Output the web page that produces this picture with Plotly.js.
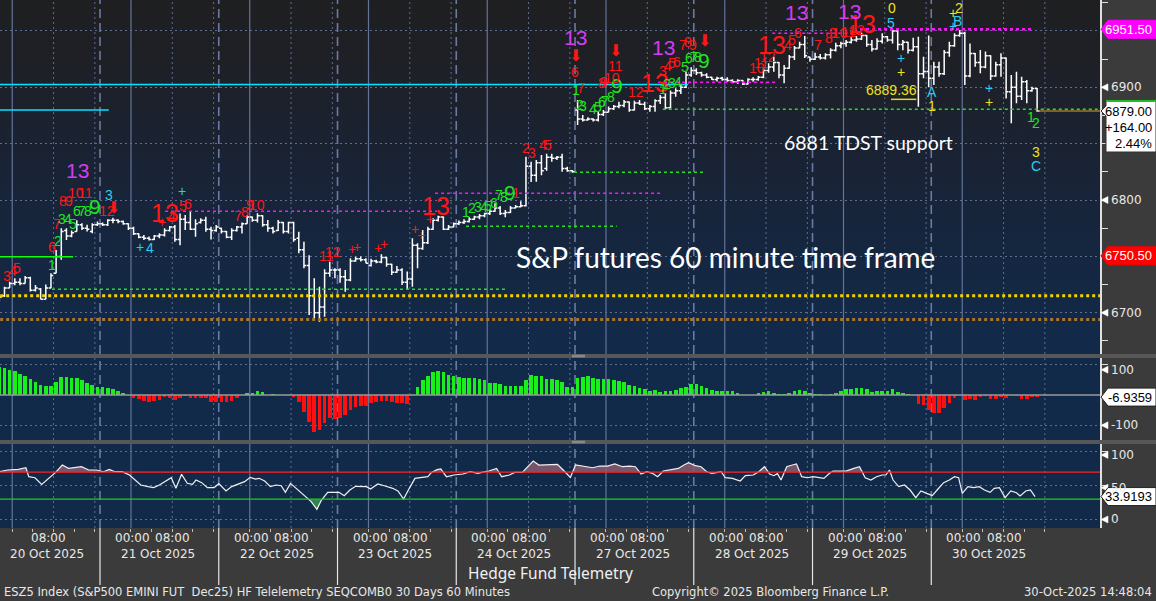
<!DOCTYPE html>
<html>
<head>
<meta charset="utf-8">
<script src="https://cdn.plot.ly/plotly-3.0.1.min.js"></script>
<style>
html,body{margin:0;padding:0;background:#3b3b3b;overflow:hidden;}
#wrap{position:relative;width:1156px;height:601px;background:#3b3b3b;}
.bg{position:absolute;left:0;width:1100px;}
#bg1{top:0;height:354px;background:linear-gradient(to bottom,#1f1f21 0%,#1e2026 18%,#1a2232 42%,#15263f 70%,#122a4b 100%);}
#bg2{top:358px;height:82px;background:#122a4a;}
#bg3{top:444px;height:84px;background:#122a4a;}
#chart{position:absolute;left:0;top:0;width:1156px;height:601px;}
</style>
</head>
<body>
<div id="wrap"><div class="bg" id="bg1"></div><div class="bg" id="bg2"></div><div class="bg" id="bg3"></div><div id="chart"></div></div>
<script>
// ---------------- DATA ----------------
const FIRST_BAR = -20;          // bar index of first visible 60-min bar (20 Oct 22:00)
const BARS_PER_SESSION = 23;    // 18:00 .. 16:00
const sessionNo = [-1, 0, 1, 2, 3, 4, 5, 6, 7];
const sessionDates = ['20 Oct 2025','21 Oct 2025','22 Oct 2025','23 Oct 2025','24 Oct 2025','27 Oct 2025','28 Oct 2025','29 Oct 2025','30 Oct 2025'];

const barOpen = [
 6711,6715,6722,6726,6727,6726,6731,6720,6721,6712,6722,6735,6750,6773,6768,6772,6778,6775,6772,6778,
 6779,6778,6782,6782,6781,6779,6775,6770,6767,6766,6765,6768,6769,6773,6776,6765,6783,6780,6774,6780,6782,6774,6773,
 6775,6772,6767,6773,6776,6779,6785,6782,6786,6778,6775,6773,6780,6772,6780,6766,6756,6742,6715,6700,6705,6735,6738,
 6738,6732,6729,6746,6748,6747,6742,6746,6745,6749,6743,6736,6738,6727,6730,6760,6757,6762,6774,6782,6785,6774,6776,
 6779,6780,6781,6783,6785,6786,6788,6790,6793,6788,6789,6793,6794,6795,6830,6822,6833,6828,6838,6837,6838,6828,6826,
 6880,6872,6871,6872,6871,6876,6878,6881,6883,6884,6887,6880,6886,6885,6881,6883,6888,6891,6882,6895,6897,6900,6911,
 6915,6913,6911,6909,6907,6908,6907,6906,6905,6906,6903,6907,6907,6909,6915,6918,6922,6911,6917,6927,6935,6938,6927,
 6925,6927,6926,6929,6933,6937,6939,6940,6942,6943,6946,6938,6934,6941,6945,6942,6950,6938,6940,6933,6936,6912,6914,
 6908,6918,6912,6931,6937,6946,6948,6910,6930,6922,6918,6928,6910,6920,6926,6896,6900,6892,6905,6897,6899];
const barHigh = [
 6716,6723,6727.5,6730.5,6730.5,6732.5,6732,6724.7,6722,6725,6735,6755.7,6775,6775,6773,6782,6779.4,6778,6779.4,6780.9,
 6780,6783,6784.4,6783,6781.8,6779.4,6776.4,6770.5,6769,6767.6,6769,6770.5,6775,6777,6777.8,6788,6786.7,6789.7,6782.9,6783.8,6785.2,6776.4,6777.8,
 6775.5,6772.5,6774.9,6777,6780,6786.7,6785.5,6788.2,6786.5,6782.3,6776.4,6782.3,6780.5,6780.8,6780.8,6771.9,6763,6751,6730.5,6723,6738.5,6745.3,6739.4,
 6739.4,6737.9,6748.3,6749.7,6749.8,6748.3,6748,6747,6752,6749.5,6743.5,6741.5,6739.4,6736.5,6766,6761.6,6773.5,6776.4,6783.8,6786,6785.3,6777.9,6780,
 6781.8,6783,6784.7,6786,6787.7,6788.8,6791.8,6797.1,6794.8,6791.2,6794.8,6795.6,6799,6838.5,6834,6835.5,6840,6841,6841,6839,6841,6829.6,6826.7,
 6888.8,6875.5,6873.4,6872.5,6878.4,6879.9,6882.9,6884.3,6887.3,6888.8,6887.5,6888.2,6888.8,6887.3,6884.3,6889.4,6893.2,6894.7,6897.1,6899.1,6902.1,6913.9,6917.8,
 6916.9,6913.9,6912.4,6909.5,6909.5,6909.5,6908.9,6907.1,6907.1,6906.5,6908,6908.9,6910,6916.9,6921.3,6927.2,6922.5,6919.8,6928.7,6936.7,6940.5,6945.6,6927.2,
 6930.8,6929.6,6930.2,6934.6,6939.6,6940.5,6942,6944.4,6945.6,6948.5,6946.5,6942,6943.5,6947.9,6945.6,6951.5,6951.2,6942,6940.5,6944,6945,6927.2,6946,
 6922.8,6922.8,6933.1,6940.5,6947.9,6950.9,6949.4,6939,6930.5,6933.1,6931.7,6928.5,6922.8,6930.2,6926.5,6911,6913.9,6909.5,6906.5,6900.6,6899.5];
const barLow = [
 6710,6714,6722,6724.5,6724.5,6726,6718.8,6718.8,6712,6712,6721.7,6735,6747,6764.6,6767,6772,6773.5,6772,6770.5,6777,
 6777,6777,6779.4,6779.4,6778,6773.5,6769,6766,6764.6,6764,6764.6,6766,6767.6,6772,6763,6760,6773.4,6773.4,6767.5,6779.3,6771.9,6765,6771.9,
 6770.4,6766,6764.5,6772,6770.4,6779,6780.8,6780,6776.4,6771.9,6770.4,6772.5,6770.4,6770.4,6763,6752.7,6739.4,6698,6693.6,6692,6696.5,6732,6730.5,
 6726.7,6718.7,6728,6745.3,6745.4,6743.9,6741,6744,6744,6740.9,6733.5,6735.5,6724.7,6720.2,6723,6739.4,6756,6761,6773.5,6780.9,6773.5,6773.5,6775.8,
 6777.9,6778.8,6780,6782.3,6782.9,6784.7,6786.8,6789.7,6786.8,6784.7,6788.5,6792.7,6793.6,6794.2,6816,6816.3,6822,6826,6834,6835.5,6825.2,6825.2,6824.3,
 6866.6,6869.6,6870.5,6869.6,6869.6,6874.6,6878,6879.9,6881.4,6882.3,6878.4,6879.5,6884.3,6879.9,6878.4,6878.4,6885.2,6880.5,6881.5,6891.7,6894.1,6899.5,6909.5,
 6911,6909.5,6908,6906.5,6905.1,6905.9,6905,6903.6,6903,6902.1,6902.5,6905,6905.9,6908,6913,6913.9,6908,6903.6,6916.5,6924.3,6934.6,6926,6922.8,
 6924.3,6924.8,6924.8,6925.7,6931.7,6934.6,6936.1,6939,6940.5,6942,6936.1,6931.7,6933.5,6939,6940.5,6939,6933,6933,6930,6931.7,6882.8,6908,6900,
 6902,6909.5,6911,6927.2,6936.1,6945,6902.1,6909,6918.3,6912.4,6916.9,6906.5,6909.5,6909.5,6890.2,6868.1,6885.8,6888.8,6885.8,6896.2,6878.4];
const barClose = [
 6714,6722,6726,6727,6726,6731,6720,6722,6712,6722,6733,6750,6772,6768,6771,6778,6775,6774,6778,6779,
 6778,6782,6782,6781,6779,6775,6770,6767,6766,6765,6768,6769,6773,6776,6765,6783,6780,6774,6779,6782,6774,6773,6776,
 6772,6767,6773,6776,6779,6785,6782,6786,6778,6775,6772,6780,6772,6780,6765,6756,6742,6715,6700,6705,6735,6738,6738,
 6732,6729,6746,6748,6747,6744,6746,6745,6749,6743,6736,6738,6727,6730,6760,6757,6762,6774,6782,6785,6774,6776,6779,
 6780,6781,6783,6785,6786,6788,6790,6793,6788,6789,6793,6794,6795,6830,6822,6833,6826,6838,6837,6838,6828,6826,6825,
 6872,6871,6872,6871,6876,6878,6881,6883,6884,6887,6880,6886,6885,6881,6883,6888,6891,6882,6895,6897,6900,6911,6915,
 6913,6911,6909,6907,6908,6907,6906,6905,6906,6903,6907,6907,6909,6915,6918,6922,6911,6917,6927,6935,6938,6928,6925,
 6927,6926,6929,6933,6937,6939,6940,6942,6943,6946,6938,6934,6941,6945,6942,6950,6938,6940,6933,6936,6912,6914,6908,
 6918,6912,6931,6937,6946,6948,6910,6930,6922,6918,6928,6910,6920,6926,6896,6900,6892,6905,6897,6899,6879];

// oscillator histogram, one value per bar (same bars as above)
const oscValue = [
 93.5,88,82.5,79.2,68.2,63.8,51.7,44,33,29.7, 30.8,44,58.3,58.3,57.2,55,49.5,39.6,33,27.5,
 25.3,22,18.7,13.2,5.5,0.5,-11,-13.2,-19.8,-24.2, -19.8,-16.5,-5.5,-11,-16.5,-8.8,-2.2,-8.8,-11,-8.8,
 -11,-22,-22,-22,-22,-19.8,-11,-1,7.7,7.7, 13.2,8.8,1.1,2.2,1.1,-1.1,-3.3,-7.7,-22,-55,
 -88,-121,-115.5,-93.5,-77,-79.2,-74.8,-66,-49.5,-38.5, -35.2,-35.2,-27.5,-22,-19.8,-19.8,-22,-25.3,-27.5,-29.7,
 -2,27.5,49.5,63.8,74.8,79.2,74.8,66,63.8,60.5, 57.2,57.2,55,51.7,49.5,40.7,40.7,35.2,30.8,30.8,
 30.8,30.8,49.5,66,63.8,63.8,52.8,52.8,49.5,41.8, 27.5,
 25.3,55,60.5,62.7,57.2,52.8,52.8,52.8,49.5,46.2, 41.8,33,30.8,24.2,19.8,14.3,16.5,11,13.2,14.3,
 16.5,22,27.5,35.2,36.3,30.8,24.2,16.5,13.2,13.2, 13.2,13.2,7.7,-1,-1,-1,5.5,11,13.2,7.7,
 4.4,2.2,7.7,13.2,16.5,13.2,7.7,3.3,2.2,-1, 2.2,7.7,13.2,18.7,19.8,22,24.2,18.7,11,13.2,
 13.2,13.2,18.7,11,5.5,2.2,-1,-30.8,-33,-49.5, -60.5,-60.5,-41.8,-27.5,-11,-1,-16.5,-14.3,-17.6,-5.5,
 -3.3,-13.2,-13.2,-5.5,-11,-1,-2.2,-13.2,-13.2,-5.5, -6.9359];

// lower line oscillator, read at these bar positions
const rsiBar = [-19.9,-18.4,-16.3,-14.85,-14.3,-13.1,-11.8,-10.5,-9.1,-7.8,-6.6,-5.5,-4.1,-2.7,-1.2,0.2,1.3,2.4,3.8,5.2,7.4,8.8,9.9,11,12,13.3,14.2,15.3,16.4,17.4,18.1,19.2,20.3,21.6,22.5,23.9,25,26,27.5,28.6,29.6,30.3,31.4,32.5,33.6,34.6,35.4,36.4,37.5,38.9,40.4,41.5,42.4,43.6,44.7,45.8,46.8,47.9,49,50.1,51.1,51.9,53.3,54.7,56.2,57.2,58.3,59.4,60.5,61.9,63,63.7,64.8,65.5,66.6,68,69.8,71.2,72.7,73.4,74.8,76.3,77.3,78.8,79.8,81.3,82.4,83.4,84.5,85.9,88.1,89.2,90.6,
 91.6,93.4,94.9,96.3,97.8,99.2,100.7,102.1,103.2,104.3,105.4,106.5,107.5,108.6,110.1,111.5,112.6,113.5,114.8,115.9,117,118,119.1,119.8,120.6,122,123.5,124.5,126,127.1,128.2,129.2,130,130.7,131.4,132.5,133.6,134.4,135.4,136.5,137.6,138.6,139.7,140.8,141.5,142.6,144,145.5,146.6,147.7,148.8,149.9,151,151.7,152.4,153.1,154.2,155.3,156.4,157.5,158.5,159.6,160.7,161.8,162.9,164,165,165.8,166.5,167.6,168.7,169.8,170.8,171.9,172.7,173.7,174.8,175.9,177,177.7,178.8,179.7,180.6];
const rsiVal = [70.7,73.2,74.2,76.6,63.3,61.8,52,60.9,69.7,80.6,75.6,76.6,78.1,73.2,73.2,70.7,74.2,70.7,70.7,65.8,51,48.6,47.1,51,56,61.8,46.1,66.8,53.5,52,58.4,54.5,47.1,47.1,53,42.2,48.6,52,56,62.3,59.9,60.9,56.9,48.6,51,50,40.2,53.5,46.1,36.2,26.4,15,28.8,40.2,40.2,40.2,35.3,43.6,49.1,48.6,48.6,45.1,52.5,49.6,46.1,42.2,30.3,46.1,60.9,62.3,63.3,69.7,73.7,74.7,63.3,65.8,67.3,70.7,68.3,69.7,71.7,75.6,63.3,65.8,69.7,69.7,78.1,86.5,80.6,80.6,81.6,73.2,62.3,
 80.6,78.1,76.6,79.1,79.1,82.1,78.1,79.1,78.1,67.3,70.7,68.3,63.3,71.7,73.2,75.6,80.6,84.1,79.6,78.1,70.7,68.3,69.7,70.7,61.8,60.9,56.9,64.8,65.8,70.7,78.1,67.3,64.8,67.8,58.4,78.1,80.6,82.1,63.3,61.8,63.3,61.8,60.9,68.3,71.7,71.7,71.7,75.6,78.1,61.8,58.4,63.3,65.8,65.8,73.2,58.4,48.6,51,43.6,32.3,42.2,38.6,35.3,45.1,54.5,58.4,63.3,61.8,38.6,48.6,47.1,48.6,43.6,40.2,46.1,47.1,32.3,42.2,39.6,34.8,42.2,43.6,33.9193];
const rsiUpper = 70, rsiLower = 30;

// TD sequential labels: text, bar position, price, kind
const tdText  = ['13','10','11','8','9','6','7','8','9','3','12','⬇','7','3','4','5','6','2','1','3','4','5',
 '13','+','4','5','6','+','+','4','7','8','9','10','11','12','+','+','+','+','+','+','+','13',
 '1','2','3','4','5','6','7','8','9','1','2','3','4','5',
 '13','⬇','6','7','1','2','3','4','5','6','7','8','9','8','9','10','11','⬇','12','13',
 '13','3','4','5','6','1','2','3','4','5','6','7','8','9','7','8','9','⬇',
 '10','11','12','13','4','5','6','13','7','8','9','10','11','12','13','13',
 '0','5','+','+','A','1','2','+','B','+','+','+','1','2','3','C'];
const tdBar   = [-4.8,-5.15,-3.4,-7.67,-6.5,-4.95,-4.0,-2.8,-1.47,1.24,0.86,2.2,-8.83,-7.86,-6.7,-5.73,-9.8,-8.63,-9.8,-18.5,-17.35,-16.6,
 12.1,11.5,13.45,15.6,16.5,15.4,7.25,9.2,26.2,27.6,28.55,29.9,43.3,44.6,48.3,49.3,53.3,54.5,60.5,61.7,63.4,64.6,
 70.4,71.55,72.7,73.9,74.65,75.8,76.8,77.7,78.9,80.1,82,83.2,85.3,86.3,
 91.5,91.5,91.5,92.7,91.7,92.5,93.1,95.05,95.9,96.7,97.4,98.5,99.6,96.7,97.2,98.7,99.4,99.4,103.4,106.9,
 108.6,108.6,109.6,110.2,111.2,108.6,109.3,110.2,111.4,112.8,113.6,114.6,115.4,116.5,112.5,113.4,114.4,116.5,
 126.7,127.7,128.8,129.7,132.7,133.6,134.6,134.4,138.6,140.7,141.5,142.8,144.4,146.1,147.1,144.6,
 152.8,152.7,154.6,154.6,160.7,160.7,165.9,164.8,165.6,164.7,171.7,171.7,179.8,180.7,180.7,180.7];
const tdPrice = [6825.8,6806.3,6806.3,6799.1,6799.1,6790.3,6790.3,6790.3,6794.7,6804.5,6790.3,6793,6778.7,6783.2,6783.2,6778.7,6758.3,6763.7,6742.4,6732.6,6737,6739.7,
 6788.5,6780.5,6785.8,6794.7,6796.5,6808,6758.3,6757.5,6785.8,6789.4,6795.6,6795.6,6750.3,6753.9,6756.6,6758.3,6757.5,6761,6774.3,6769,6783.2,6794.7,
 6789.4,6793,6793.8,6793.8,6794.7,6797.4,6804.5,6802.7,6807.1,6806.3,6846.2,6841.8,6848.8,6848.8,
 6943.8,6928.7,6913.6,6899.4,6897.6,6884.3,6883.4,6880.5,6882.3,6887.3,6888.2,6891.7,6901.2,6904.1,6905,6908,6918.9,6932.5,6896.1,6903.6,
 6935.5,6914.8,6918.9,6921.3,6922.8,6898.3,6903,6903.6,6905,6918.3,6925.8,6926.7,6927.2,6923.6,6937.6,6940.5,6937.6,6942,
 6916.9,6921.3,6926.7,6937.6,6937.6,6942,6948,6966.2,6937.6,6943.5,6948,6948,6949.1,6950.9,6956.2,6967.1,
 6970.1,6957.4,6925.8,6913.3,6895.6,6883.4,6970.8,6966.2,6959.1,6954.7,6899.2,6886.7,6873.9,6868.1,6842.9,6830.5];
const tdKind  = ['m','r','r','r','r','g','g','g','G','c','r','a','r','g','g','g','r','g','g','r','r','r',
 'R','r','r','r','r','c','c','c','r','r','r','r','r','r','r','r','r','r','r','r','r','R',
 'g','g','g','g','g','g','g','g','G','r','r','r','r','r',
 'm','a','r','r','g','g','g','g','g','g','g','g','G','r','r','r','r','a','r','R',
 'm','r','r','r','r','g','g','g','g','g','g','g','g','G','r','r','r','a',
 'r','r','r','R','r','r','r','m','r','r','r','r','r','r','R','m',
 'y','c','c','y','c','y','y','y','c','c','c','y','g','g','y','c'];

// horizontal level lines: price, from bar, to bar, style
const lvlPrice = [6902.5,6880,6749.7,6715,6694,6720.8,6790,6806,6776.7,6824.6,6880.5,6904.5,6948,6951.5];
const lvlFrom  = [-21,-21,-21,-21,-21,-9.8,12.1,64.4,70.4,91.3,108.5,107.6,129.7,146.7];
const lvlTo    = [113.4,1.2,-5.7,195,195,78.1,64.8,108.4,99.6,116.3,195,130.6,146.7,180.2];
const lvlKind  = ['cyan','cyan','green','gold','bronze','gdot','mdot','mdot','gdot','gdot','gdot','mdot','mdot','mthick'];

const tdstValue = 6889.36, tdstFrom = 152.7, tdstTo = 157.6;
const priceLabels = [6700, 6800, 6900];
const oscLabels = [-100, 100];
const rsiLabels = [0, 50, 100];
const lastPrice = 6879.00, netChange = '+164.00', pctChange = '2.44%';
const highTag = 6951.50, lowTag = 6750.50;

// ---------------- GEOMETRY ----------------
const XR = [-19.37, 193.68];
const PW = 1100, PH = 528;
const AX = {
  y:  {dom:[0.32955, 1], rng:[6663.4, 6977.5]},
  y2: {dom:[0.16667, 0.32197], rng:[-148.5, 122.1]},
  y3: {dom:[0, 0.15909], rng:[-12.6, 111.7]}
};
const xpx = px => px / PW;
const ypx = py => (PH - py) / PH;
const xToPaper = X => (X - XR[0]) / (XR[1] - XR[0]);
const vToPaper = (ax, v) => { const a = AX[ax]; return a.dom[0] + (v - a.rng[0]) / (a.rng[1] - a.rng[0]) * (a.dom[1] - a.dom[0]); };
const pxUnits = 1 / PH; // paper per pixel vertically

const barX = barOpen.map((_, i) => FIRST_BAR + i + 0.5);

// ---------------- TRACES ----------------
const traces = [];
traces.push({
  type:'ohlc', x:barX, open:barOpen, high:barHigh, low:barLow, close:barClose,
  xaxis:'x', yaxis:'y', tickwidth:0.45, hoverinfo:'skip',
  increasing:{line:{color:'#ffffff', width:1.5}}, decreasing:{line:{color:'#ffffff', width:1.5}}
});
traces.push({
  type:'bar', x:barX, y:oscValue, xaxis:'x', yaxis:'y2', width:0.7, hoverinfo:'skip',
  marker:{color:oscValue.map(v => v >= 0 ? '#19f019' : '#ff1010'), line:{width:0}}
});
function band(level, above, color){
  const fx = [], fy = [];
  const xs = rsiBar.map(b => b + 0.5);
  for (let i = 0; i < xs.length; i++){
    if (i > 0){
      const a = rsiVal[i-1] - level, b = rsiVal[i] - level;
      if (a * b < 0){ const t = a / (a - b); fx.push(xs[i-1] + t * (xs[i] - xs[i-1])); fy.push(level); }
    }
    fx.push(xs[i]); fy.push(above ? Math.max(rsiVal[i], level) : Math.min(rsiVal[i], level));
  }
  traces.push({type:'scatter', x:fx, y:fx.map(() => level), xaxis:'x', yaxis:'y3', mode:'lines', line:{width:0, color:color}, hoverinfo:'skip'});
  traces.push({type:'scatter', x:fx, y:fy, xaxis:'x', yaxis:'y3', mode:'lines', line:{width:0, color:color}, fill:'tonexty', fillcolor:color, hoverinfo:'skip'});
}
band(rsiUpper, true, 'rgba(140,90,108,0.85)');
band(rsiLower, false, 'rgba(50,150,75,0.85)');
traces.push({type:'scatter', x:rsiBar.map(b => b + 0.5), y:rsiVal, xaxis:'x', yaxis:'y3', mode:'lines', line:{color:'#f0f0f0', width:1.2}, hoverinfo:'skip'});

// ---------------- SHAPES ----------------
const shapes = [];
const GRID = '#5d6d93';
['y','y2','y3'].forEach(ax => {
  const r = AX[ax].rng;
  sessionNo.forEach(s => {
    const b = s * BARS_PER_SESSION;
    const lines = [[b, 'dash'], [b + 6, 'solid'], [b + 14, 'dot'], [b + 22, 'dot']];
    lines.forEach(([X, st]) => {
      if (X < XR[0] || X > XR[1]) return;
      const ln = st === 'solid' ? {color:'#63739a', width:1.2} :
                 st === 'dash'  ? {color:'#6a7aa2', width:1.6, dash:'9px,5px'} :
                                  {color:GRID, width:1, dash:'2px,3px'};
      shapes.push({type:'line', xref:'x', yref:ax, x0:X, x1:X, y0:r[0], y1:r[1], line:ln, layer:'below'});
    });
  });
});
const lvlStyle = {
  cyan:{color:'#00e5ff', width:1.5}, green:{color:'#10ff10', width:1.5},
  gold:{color:'#f2d300', width:3, dash:'3px,3px'}, bronze:{color:'#a8762c', width:3, dash:'3px,3px'},
  gdot:{color:'#22e022', width:1.4, dash:'3px,3px'}, mdot:{color:'#ff10ff', width:1.4, dash:'3px,3px'},
  mthick:{color:'#ff10ff', width:2.5, dash:'3px,3px'}
};
lvlPrice.forEach((p, i) => {
  shapes.push({type:'line', xref:'x', yref:'y', x0:lvlFrom[i] + 0.5, x1:lvlTo[i] + 0.5, y0:p, y1:p, line:lvlStyle[lvlKind[i]]});
});
const lastX = barX[barX.length - 1];
shapes.push({type:'line', xref:'x', yref:'y', x0:lastX, x1:XR[1] + 1, y0:lastPrice, y1:lastPrice, line:{color:'#d9a520', width:1.2}});
shapes.push({type:'line', xref:'x', yref:'y', x0:tdstFrom + 0.5, x1:tdstTo + 0.5, y0:tdstValue, y1:tdstValue, line:{color:'#e8dc10', width:1.5}});
shapes.push({type:'line', xref:'x', yref:'y3', x0:XR[0], x1:XR[1], y0:rsiUpper, y1:rsiUpper, line:{color:'#ff2020', width:1.3}});
shapes.push({type:'line', xref:'x', yref:'y3', x0:XR[0], x1:XR[1], y0:rsiLower, y1:rsiLower, line:{color:'#22cc22', width:1.3}});
shapes.push({type:'line', xref:'x', yref:'y2', x0:XR[0], x1:XR[1], y0:0, y1:0, line:{color:'#9a9a9a', width:1.5}});

[[354, 358], [440, 444]].forEach(([a, b]) => {
  shapes.push({type:'rect', xref:'paper', yref:'paper', x0:0, x1:xpx(1156), y0:ypx(b), y1:ypx(a), fillcolor:'#575757', line:{width:0}, layer:'above'});
  shapes.push({type:'line', xref:'paper', yref:'paper', x0:xpx(572), x1:xpx(585), y0:ypx(a + 1.3), y1:ypx(a + 1.3), line:{color:'#9a9a9a', width:1}, layer:'above'});
  shapes.push({type:'line', xref:'paper', yref:'paper', x0:xpx(572), x1:xpx(585), y0:ypx(a + 2.8), y1:ypx(a + 2.8), line:{color:'#9a9a9a', width:1}, layer:'above'});
});
sessionNo.forEach(s => {
  if (s < 0) return;
  const xp = xToPaper(s * BARS_PER_SESSION);
  shapes.push({type:'line', xref:'paper', yref:'paper', x0:xp, x1:xp, y0:ypx(585), y1:ypx(528), line:{color:'#e6e6e6', width:1.2}});
});

// ---------------- ANNOTATIONS ----------------
const ann = [];
function text(o){ ann.push(Object.assign({showarrow:false, xanchor:'center', yanchor:'middle'}, o)); }
const kindStyle = {
  r:{c:'#ff1616', s:14}, R:{c:'#ff1616', s:25}, g:{c:'#1fe61f', s:14}, G:{c:'#1fe61f', s:21},
  m:{c:'#d33cf3', s:21}, c:{c:'#2ccbf2', s:14}, y:{c:'#f0e020', s:14}, a:{c:'#ff1616', s:16, f:'DejaVu Sans'}
};
tdText.forEach((t, i) => {
  const st = kindStyle[tdKind[i]];
  text({xref:'x', yref:'y', x:tdBar[i] + 0.5, y:tdPrice[i], text:t, font:{family:st.f || 'Liberation Sans', size:st.s, color:st.c}});
});
text({xref:'x', yref:'y', x:tdstFrom + 0.5, y:tdstValue, text:tdstValue.toFixed(2), yanchor:'bottom', yshift:-1,
  font:{family:'Liberation Sans', size:14, color:'#f0e020'}});

text({xref:'paper', yref:'paper', x:xpx(725), y:ypx(257), text:'S&P futures 60 minute time frame', font:{family:'Lato', size:28, color:'#ffffff'}});
text({xref:'paper', yref:'paper', x:xpx(868), y:ypx(142), text:'6881 TDST support', font:{family:'Lato', size:19.5, color:'#ffffff'}});

const AXFONT = {family:'DejaVu Sans', size:12, color:'#e8e8e8'};
function axLabel(ax, v, shift){
  const yp = vToPaper(ax, v) + (shift || 0) * pxUnits;
  text({xref:'paper', yref:'paper', x:xpx(1109), y:yp, text:String(v), xanchor:'left', font:AXFONT});
  shapes.push({type:'path', xref:'paper', yref:'paper',
    path:`M ${xpx(1101)},${yp} L ${xpx(1108)},${yp + 3.5 * pxUnits} L ${xpx(1108)},${yp - 3.5 * pxUnits} Z`,
    fillcolor:'#ffffff', line:{color:'#ffffff', width:0.5}});
}
priceLabels.forEach(v => axLabel('y', v));
oscLabels.forEach(v => axLabel('y2', v, v > 0 ? -5 : 0));
rsiLabels.forEach(v => axLabel('y3', v, v === 100 ? -3 : (v === 50 ? -2 : 0)));

const TAGFONT = 'Liberation Sans';
function tag(ax, v, label, fill, fg){
  const yp = vToPaper(ax, v), h = 9 * pxUnits;
  shapes.push({type:'path', xref:'paper', yref:'paper', layer:'above',
    path:`M ${xpx(1101)},${yp} L ${xpx(1108)},${yp + h} L ${xpx(1156)},${yp + h} L ${xpx(1156)},${yp - h} L ${xpx(1108)},${yp - h} Z`,
    fillcolor:fill, line:{color:fill === '#ffffff' ? '#222' : fill, width:1}});
  text({xref:'paper', yref:'paper', x:xpx(1154), y:yp, text:label, xanchor:'right', font:{family:TAGFONT, size:13, color:fg}});
}
tag('y', highTag, highTag.toFixed(2), '#ff00ff', '#ffffff');
tag('y', lowTag, lowTag.toFixed(2), '#ff0000', '#ffffff');
tag('y2', oscValue[oscValue.length - 1], oscValue[oscValue.length - 1].toFixed(4), '#ffffff', '#000000');
tag('y3', rsiVal[rsiVal.length - 1], rsiVal[rsiVal.length - 1].toFixed(4), '#ffffff', '#000000');
(function(){
  const yp = vToPaper('y', lastPrice), u = pxUnits;
  const top = yp + 10 * u, bot = yp - 41 * u;
  shapes.push({type:'path', xref:'paper', yref:'paper', layer:'above',
    path:`M ${xpx(1101)},${yp} L ${xpx(1106)},${yp + 5 * u} L ${xpx(1106)},${top} L ${xpx(1156)},${top} L ${xpx(1156)},${bot} L ${xpx(1106)},${bot} L ${xpx(1106)},${yp - 5 * u} Z`,
    fillcolor:'#ffffff', line:{color:'#333', width:1}});
  shapes.push({type:'line', xref:'paper', yref:'paper', layer:'above', x0:xpx(1106), x1:xpx(1156), y0:top, y1:top, line:{color:'#1fbf1f', width:2}});
  [[lastPrice.toFixed(2), 0], [netChange, -16], [pctChange, -32]].forEach(([t, d]) => {
    text({xref:'paper', yref:'paper', x:xpx(1154), y:yp + d * u, text:t, xanchor:'right', font:{family:TAGFONT, size:13, color:'#000'}});
  });
})();

const TFONT = {family:'DejaVu Sans', size:12, color:'#e8e8e8'};
sessionNo.forEach((s, i) => {
  const b = s * BARS_PER_SESSION;
  if (s < 0){
    text({xref:'x', yref:'paper', x:-9.9, y:ypx(538), text:'08:00', font:TFONT});
    text({xref:'x', yref:'paper', x:-10.2, y:ypx(554), text:sessionDates[i], font:TFONT});
    return;
  }
  text({xref:'x', yref:'paper', x:b + 6.3, y:ypx(538), text:'00:00', font:TFONT});
  text({xref:'x', yref:'paper', x:b + 14.1, y:ypx(538), text:'08:00', font:TFONT});
  text({xref:'x', yref:'paper', x:b + 11.2, y:ypx(554), text:sessionDates[i], font:TFONT});
});
text({xref:'paper', yref:'paper', x:xpx(550), y:ypx(573), text:'Hedge Fund Telemetry', font:{family:'Noto Sans', size:15.5, color:'#f0f0f0'}});
const FFONT = {family:'DejaVu Sans', size:11.5, color:'#e8e8e8'};
text({xref:'paper', yref:'paper', x:xpx(2), y:ypx(592), xanchor:'left', text:'ESZ5 Index (S&P500 EMINI FUT  Dec25) HF Telelemetry SEQCOMB0 30 Days 60 Minutes', font:FFONT});
text({xref:'paper', yref:'paper', x:xpx(770), y:ypx(592), text:'Copyright© 2025 Bloomberg Finance L.P.', font:FFONT});
text({xref:'paper', yref:'paper', x:xpx(1154), y:ypx(592), xanchor:'right', text:'30-Oct-2025 14:48:04', font:FFONT});

const tickX = [];
sessionNo.forEach(s => [6, 10, 14, 18, 22].forEach(j => tickX.push(s * BARS_PER_SESSION + j)));

// ---------------- LAYOUT ----------------
const yBase = {side:'right', anchor:'x', showline:true, linecolor:'#e0e0e0', linewidth:1.5, ticks:'outside', ticklen:6,
  tickcolor:'#e0e0e0', tickwidth:1, showticklabels:false, showgrid:true, gridcolor:GRID, griddash:'2px,3px', gridwidth:1,
  zeroline:false, fixedrange:true};
const layout = {
  width:1156, height:601, margin:{l:0, r:56, t:0, b:73, pad:0},
  paper_bgcolor:'rgba(0,0,0,0)', plot_bgcolor:'rgba(0,0,0,0)', showlegend:false, bargap:0,
  xaxis:{domain:[0,1], range:XR, anchor:'y3', showgrid:false, zeroline:false, showline:false, ticks:'outside', ticklen:3,
    tickcolor:'#bdbdbd', tickvals:tickX, showticklabels:false, rangeslider:{visible:false}, fixedrange:true},
  yaxis:Object.assign({}, yBase, {domain:AX.y.dom, range:AX.y.rng, tickmode:'linear', tick0:6650, dtick:50,
    minor:{tick0:6650, dtick:25, ticks:'outside', ticklen:6, tickcolor:'#e0e0e0', showgrid:false}}),
  yaxis2:Object.assign({}, yBase, {domain:AX.y2.dom, range:AX.y2.rng, tickvals:oscLabels}),
  yaxis3:Object.assign({}, yBase, {domain:AX.y3.dom, range:AX.y3.rng, tickvals:rsiLabels}),
  shapes:shapes, annotations:ann
};
Plotly.newPlot('chart', traces, layout, {staticPlot:true, displayModeBar:false});
</script>
</body>
</html>
